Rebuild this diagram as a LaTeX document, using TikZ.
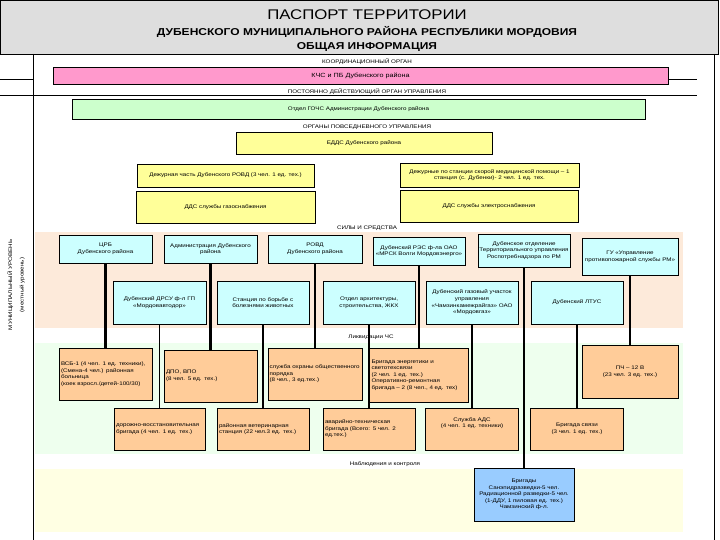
\documentclass[tikz,border=0pt]{standalone}
\usepackage{fontspec}
\setmainfont{Liberation Sans}[FakeStretch=1.2]
\usetikzlibrary{positioning}

\definecolor{headgray}{HTML}{DEDEDE}
\definecolor{kchspink}{HTML}{FF99CC}
\definecolor{gochsgreen}{HTML}{CCFFCC}
\definecolor{eddsyellow}{HTML}{FFFF99}
\definecolor{forcecyan}{HTML}{CCFFFF}
\definecolor{liqorange}{HTML}{FFCC99}
\definecolor{obsblue}{HTML}{99CCFF}
\definecolor{forcebg}{HTML}{FDEADA}
\definecolor{liqbg}{HTML}{EEFFEE}
\definecolor{obsbg}{HTML}{FFFFE3}

\tikzset{
  smalltxt/.style={font=\fontsize{5.2}{6.6}\selectfont},
  sectlabel/.style={font=\fontsize{5.2}{6}\selectfont,inner sep=0pt},
  orgbox/.style 2 args={draw,line width=.6pt,inner sep=1.5pt,align=center,smalltxt,
    minimum width=#1,minimum height=#2},
}

\begin{document}
\begin{tikzpicture}[x=1pt,y=-1pt]
  \useasboundingbox (0,0) rectangle (720,540);

  % header
  \draw[fill=headgray,line width=.8pt] (0.5,0.5) rectangle (718,54);
  \node[font=\fontsize{14}{14}\selectfont] (title) at (367,15) {ПАСПОРТ ТЕРРИТОРИИ};
  \node[font=\bfseries\fontsize{10}{10}\selectfont] (sub1) at (367,32) {ДУБЕНСКОГО МУНИЦИПАЛЬНОГО РАЙОНА РЕСПУБЛИКИ МОРДОВИЯ};
  \node[font=\bfseries\fontsize{10}{10}\selectfont] (sub2) at (367,47) {ОБЩАЯ ИНФОРМАЦИЯ};

  % table lines
  \draw[line width=.8pt] (33,54) -- (33,540);
  \draw[line width=.8pt] (714,54) -- (714,540);
  \draw[line width=.6pt] (0,79) -- (33,79) (668,79) -- (697,79);
  \draw[line width=.6pt] (0,95) -- (697,95);

  % backgrounds
  \fill[forcebg] (35,232) rectangle (683,328);
  \fill[liqbg] (35,343) rectangle (683,454);
  \fill[obsbg] (35,469) rectangle (683,532);

  \node[rotate=90,align=center,font=\fontsize{5.2}{11.5}\selectfont] (level) at (16,285) {МУНИЦИПАЛЬНЫЙ УРОВЕНЬ\\(местный уровень)};

  % label
  \node[sectlabel] (coordlabel) at (367,62) {КООРДИНАЦИОННЫЙ ОРГАН};
  \node[orgbox={615}{17},fill=kchspink,font=\fontsize{6}{7}\selectfont] (kchs) at (360.5,75.5) {КЧС и ПБ Дубенского района};

  \node[sectlabel] (permlabel) at (367,91.5) {ПОСТОЯННО ДЕЙСТВУЮЩИЙ ОРГАН УПРАВЛЕНИЯ};
  \node[orgbox={573}{20},fill=gochsgreen] (gochs) at (358.5,109) {Отдел ГОЧС Администрации Дубенского района};

  \node[sectlabel] (dailylabel) at (367,127) {ОРГАНЫ ПОВСЕДНЕВНОГО УПРАВЛЕНИЯ};
  \node[orgbox={256}{22},fill=eddsyellow] (edds) at (364,143) {ЕДДС Дубенского района};

  \node[orgbox={177}{23},fill=eddsyellow] (rovdduty) at (225.5,175.5) {Дежурная часть Дубенского РОВД (3 чел. 1 ед. тех.)};
  \node[orgbox={179}{24},fill=eddsyellow] (medduty) at (489.5,175) {Дежурные по станции скорой медицинской помощи – 1\\станция (с. Дубенки)- 2 чел. 1 ед. тех.};
  \node[orgbox={179}{32},fill=eddsyellow] (gasdds) at (225.5,207) {ДДС службы газоснабжения};
  \node[orgbox={178}{32},fill=eddsyellow] (elecdds) at (489,206) {ДДС службы электроснабжения};

  % label
  \node[sectlabel] (forcelabel) at (367,228) {СИЛЫ И СРЕДСТВА};

  \node[orgbox={93}{28},fill=forcecyan] (crb) at (105.5,249) {ЦРБ\\Дубенского района};
  \node[orgbox={93}{28},fill=forcecyan] (adm) at (210.5,249) {Администрация Дубенского\\района};
  \node[orgbox={94}{28},fill=forcecyan] (rovd) at (315,249) {РОВД\\Дубенского района};
  \node[orgbox={92}{28},fill=forcecyan] (res) at (419,251) {Дубенский РЭС ф-ла ОАО\\«МРСК Волги Мордовэнерго»};
  \node[orgbox={92}{33},fill=forcecyan] (rpn) at (524,250.5) {Дубенское отделение\\Территориального управления\\Роспотребнадзора по РМ};
  \node[orgbox={96}{37},fill=forcecyan] (gu) at (630,256.5) {ГУ «Управление\\противопожарной службы РМ»};

  \node[orgbox={93}{43},fill=forcecyan] (drsu) at (159.5,302.5) {Дубенский ДРСУ ф-л ГП\\«Мордовавтодор»};
  \node[orgbox={92}{43},fill=forcecyan] (station) at (263,302.5) {Станция по борьбе с\\болезнями животных};
  \node[orgbox={92}{43},fill=forcecyan] (arch) at (369,302.5) {Отдел архитектуры,\\строительства, ЖКХ};
  \node[orgbox={92}{43},fill=forcecyan] (gas) at (472,302.5) {Дубенский газовый участок\\управления\\«Чамзинкамежрайгаз» ОАО\\«Мордовгаз»};
  \node[orgbox={92}{43},fill=forcecyan] (ltus) at (577,302.5) {Дубенский ЛТУС};

  % label
  \node[sectlabel] (liqlabel) at (371,337) {Ликвидации ЧС};

  \node[orgbox={93}{52},fill=liqorange,text width=89pt,align=left] (vsb) at (105.5,374) {ВСБ-1 (4 чел. 1 ед. техники),\\(Смена-4 чел.) районная\\больница\\(коек взросл./детей-100/30)};
  \node[orgbox={93}{52},fill=liqorange,text width=89pt,align=left] (dpo) at (210.5,376) {ДПО, ВПО\\(8 чел. 5 ед. тех.)};
  \node[orgbox={94}{52},fill=liqorange,text width=91pt,align=left] (police) at (315,374) {служба охраны общественного\\порядка\\(8 чел., 3 ед.тех.)};
  \node[orgbox={99}{54},fill=liqorange,text width=95pt,align=left] (energy) at (419,375) {Бригада энергетики и\\светотехсвязи\\(2 чел. 1 ед. тех.)\\ Оперативно-ремонтная\\бригада – 2 (8 чел., 4 ед. тех)};
  \node[orgbox={96}{53},fill=liqorange] (pch) at (630,372) {ПЧ – 12 В\\(23 чел. 3 ед. тех.)};

  \node[orgbox={91}{42},fill=liqorange,text width=87pt,align=left] (road) at (159.5,429) {дорожно-восстановительная\\бригада (4 чел. 1 ед. тех.)};
  \node[orgbox={92}{42},fill=liqorange,text width=88pt,align=left] (vet) at (263,429) {районная ветеринарная\\станция (22 чел.3 ед. тех.)};
  \node[orgbox={92}{42},fill=liqorange,text width=88pt,align=left] (avar) at (369,429) {аварийно-техническая\\бригада (Всего: 5 чел. 2\\ед.тех.)};
  \node[orgbox={93}{42},fill=liqorange] (ads) at (472,429) {Служба АДС\\(4 чел. 1 ед. техники)\\[6pt]};
  \node[orgbox={93}{42},fill=liqorange] (comm) at (577,429) {Бригада связи\\(3 чел. 1 ед. тех.)};

  % label
  \node[sectlabel] (obslabel) at (385,464) {Наблюдения и контроля};

  \node[orgbox={100}{53},fill=obsblue] (brig) at (524,494.5) {Бригады\\Санэпидразведки-5 чел.\\Радиационной разведки-5 чел.\\(1-ДДУ, 1 пиловая ед. тех.)\\Чамзинский ф-л.};

  \foreach \from/\to in {crb/vsb,adm/dpo,rovd/police,res/energy,rpn/brig,gu/pch}
    \draw[line width=2.4pt] (\from)--(\to);
  \foreach \from/\to in {drsu/road,station/vet,arch/avar,gas/ads,ltus/comm}
    \draw[line width=1.2pt] (\from)--(\to);

\end{tikzpicture}
\end{document}
